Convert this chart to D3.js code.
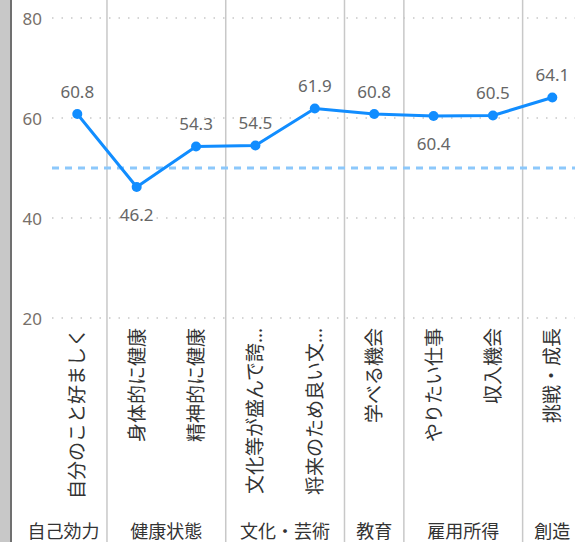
<!DOCTYPE html>
<html>
<head>
<meta charset="utf-8">
<script src="https://cdn.jsdelivr.net/npm/d3@7"></script>
<style>
  html, body { margin: 0; padding: 0; background: #fff; }
  svg { display: block; font-family: "Segoe UI", "Noto Sans", "Noto Sans CJK JP", sans-serif; }
</style>
</head>
<body>
<svg id="chart" width="575" height="542"></svg>
<script>
// ---- data ----
const categories = ["自分のこと好ましく", "身体的に健康", "精神的に健康", "文化等が盛んで誇…", "将来のため良い文…", "学べる機会", "やりたい仕事", "収入機会", "挑戦・成長"];
const groups = ["自己効力", "健康状態", "健康状態", "文化・芸術", "文化・芸術", "教育", "雇用所得", "雇用所得", "創造"];
const values = [60.8, 46.2, 54.3, 54.5, 61.9, 60.8, 60.4, 60.5, 64.1];
const referenceValue = 50;
const yTicks = [20, 40, 60, 80];

// ---- layout ----
const W = 575, H = 542;
const svg = d3.select("#chart");

const x = d3.scaleBand().domain(d3.range(categories.length)).range([47.6, 582]).padding(0);
const y = d3.scaleLinear().domain([20, 80]).range([318, 18]);
const cx = i => x(i) + x.bandwidth() / 2;

// left gray strip + axis line
svg.append("rect").attr("x", 0).attr("y", 0).attr("width", 10).attr("height", H).attr("fill", "#c8c8c8");
svg.append("line").attr("x1", 11).attr("x2", 11).attr("y1", 0).attr("y2", H)
  .attr("stroke", "#707070").attr("stroke-width", 2);

// gridlines (dotted)
svg.append("g").selectAll("line").data(yTicks).join("line")
  .attr("x1", 52).attr("x2", W)
  .attr("y1", d => y(d)).attr("y2", d => y(d))
  .attr("stroke", "#c8c8c8").attr("stroke-width", 1.5)
  .attr("stroke-dasharray", "1.5,8");

// y tick labels
svg.append("g").selectAll("text").data(yTicks).join("text")
  .attr("x", 42).attr("y", d => y(d))
  .attr("text-anchor", "end").attr("dominant-baseline", "central")
  .attr("font-size", 17).attr("fill", "#77706a")
  .text(d => d);

// group separators at group boundaries
const boundaries = [];
for (let i = 1; i < groups.length; i++) if (groups[i] !== groups[i - 1]) boundaries.push(i);
svg.append("g").selectAll("line").data(boundaries).join("line")
  .attr("x1", i => x(i)).attr("x2", i => x(i))
  .attr("y1", 0).attr("y2", H)
  .attr("stroke", "#c8c8c8").attr("stroke-width", 1.5);

// reference dashed line
svg.append("line")
  .attr("x1", 52).attr("x2", W)
  .attr("y1", y(referenceValue)).attr("y2", y(referenceValue))
  .attr("stroke", "#8cc8fb").attr("stroke-width", 3)
  .attr("stroke-dasharray", "7,6");

// line
const line = d3.line().x((d, i) => cx(i)).y(d => y(d));
svg.append("path").datum(values)
  .attr("d", line).attr("fill", "none")
  .attr("stroke", "#118DFF").attr("stroke-width", 3).attr("stroke-linejoin", "round");

svg.append("g").selectAll("circle").data(values).join("circle")
  .attr("cx", (d, i) => cx(i)).attr("cy", d => y(d)).attr("r", 5)
  .attr("fill", "#118DFF");

// data labels: below if local minimum, else above
const isLocalMin = (i) => {
  const v = values[i];
  const prev = i > 0 ? values[i - 1] : Infinity;
  const next = i < values.length - 1 ? values[i + 1] : Infinity;
  return v < prev && v < next;
};
svg.append("g").selectAll("text").data(values).join("text")
  .attr("x", (d, i) => cx(i))
  .attr("y", (d, i) => y(d) + (isLocalMin(i) ? 27 : -23))
  .attr("text-anchor", "middle").attr("dominant-baseline", "central")
  .attr("font-size", 17).attr("fill", "#666")
  .text(d => d.toFixed(1));

// rotated category labels
svg.append("g").selectAll("text").data(categories).join("text")
  .attr("transform", (d, i) => `translate(${cx(i)},${y(20) + 10}) rotate(-90)`)
  .attr("text-anchor", "end").attr("dominant-baseline", "central")
  .attr("font-size", 19).attr("fill", "#333")
  .text(d => d);

// group labels
const groupSpans = [];
groups.forEach((g, i) => {
  const last = groupSpans[groupSpans.length - 1];
  if (last && last.name === g) last.end = i; else groupSpans.push({ name: g, start: i, end: i });
});
const leftEdge = 20, rightEdge = x.range()[1];
svg.append("g").selectAll("text").data(groupSpans).join("text")
  .attr("x", (s, k) => {
    const a = k === 0 ? leftEdge : x(s.start);
    const b = k === groupSpans.length - 1 ? rightEdge : x(s.end) + x.bandwidth();
    return (a + b) / 2;
  })
  .attr("y", 531)
  .attr("text-anchor", "middle").attr("dominant-baseline", "central")
  .attr("font-size", 18).attr("fill", "#333")
  .text(s => s.name);
</script>
</body>
</html>
